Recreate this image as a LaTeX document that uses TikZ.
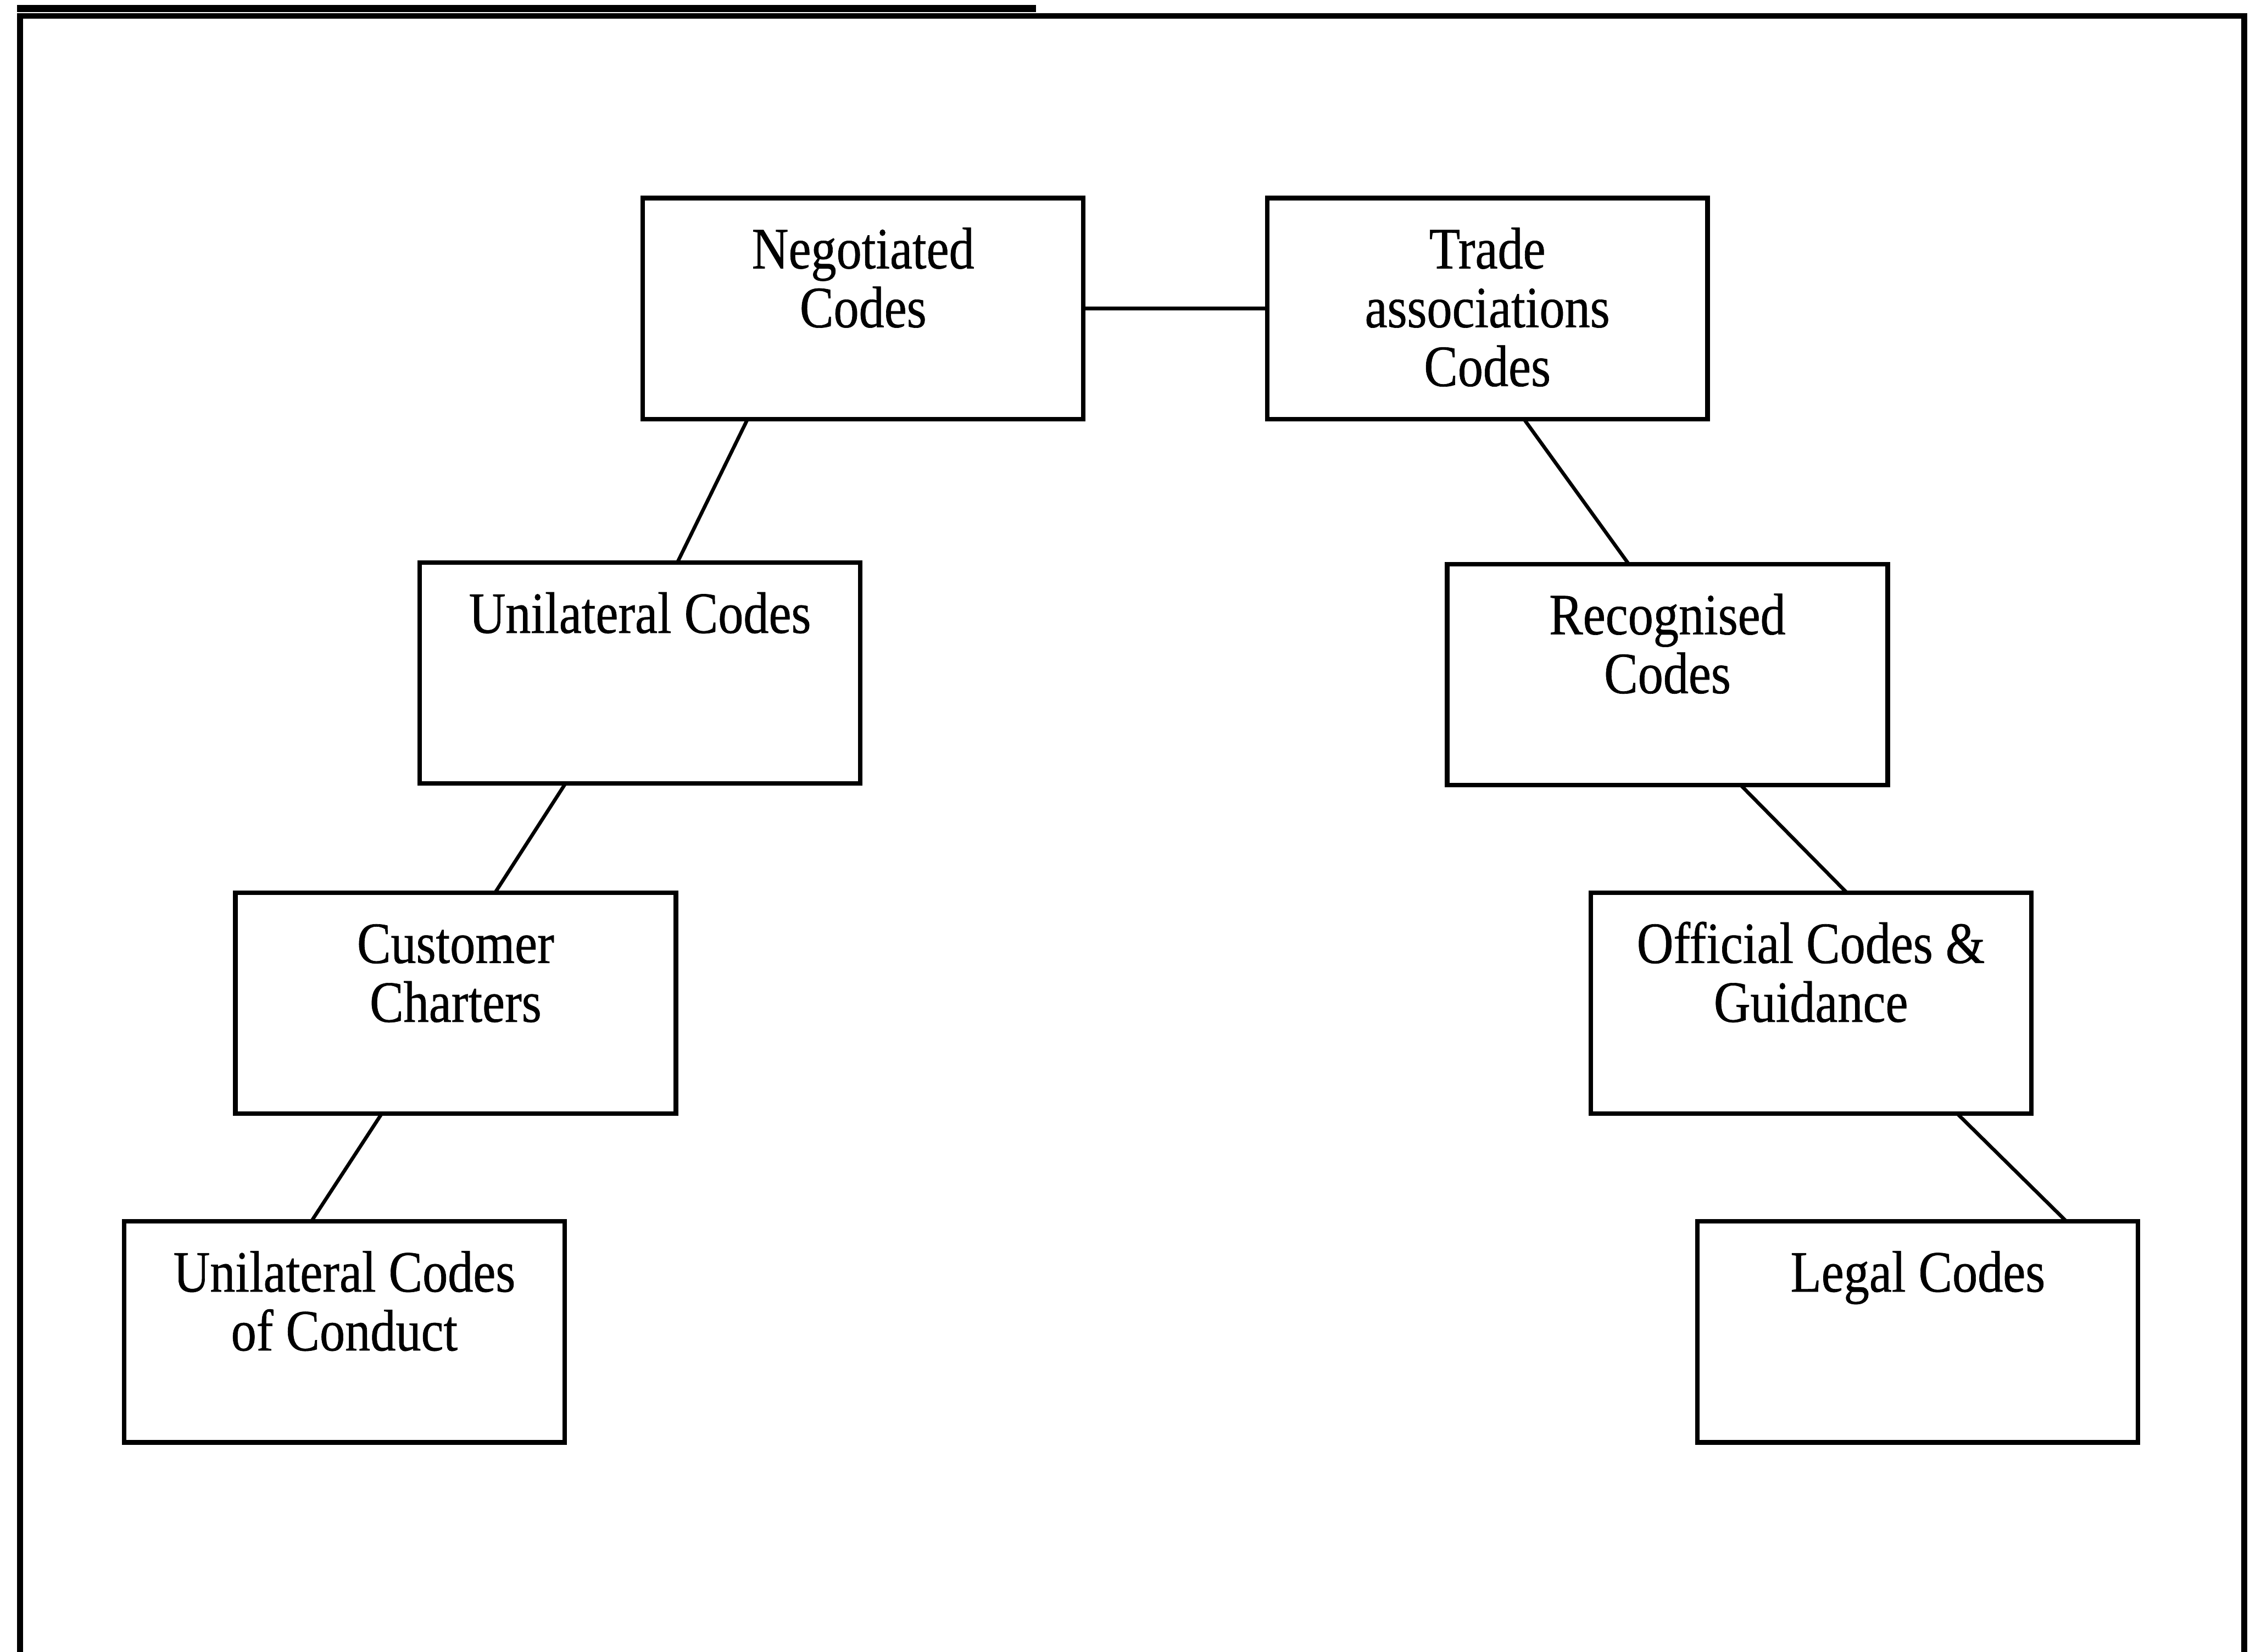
\documentclass[tikz,border=0pt]{standalone}
\usepackage{fontspec}
\setmainfont{Liberation Serif}[FakeStretch=0.865,FakeBold=0.6]
\newcommand\boxtext[1]{\parbox[c][92.4pt][t]{184.2pt}{\centering\fontsize{24.5}{24.6}\selectfont\rule{0pt}{29.4pt}#1\par}}
\begin{document}
\begin{tikzpicture}[x=0.6pt,y=-0.6pt,
  codebox/.style={draw, line width=1.9pt, rectangle, inner sep=0pt, outer sep=0pt},
  link/.style={line width=1.5pt},
  frameline/.style={line width=2.4pt}]
\useasboundingbox (0,0) rectangle (1568,1151);
\clip (0,0) rectangle (1568,1151);
% frame (bottom edge lies outside the picture)
\coordinate (ftl) at (14,11);
\coordinate (ftr) at (1564,11);
\coordinate (fbl) at (14,1170);
\coordinate (fbr) at (1564,1170);
\draw[frameline] (fbl) -- (ftl) -- (ftr) -- (fbr);
% underline of the cut-off caption
\coordinate (ul1) at (12,6);
\coordinate (ul2) at (722,6);
\draw[line width=3pt] (ul1) -- (ul2);
% boxes
\node[codebox] (neg)   at (601.5,215)  {\boxtext{Negotiated\\Codes}};
\node[codebox] (trade) at (1036.5,215) {\boxtext{Trade\\associations\\Codes}};
\node[codebox] (uni)   at (446,469)    {\boxtext{Unilateral Codes}};
\node[codebox] (rec)   at (1162,470)   {\boxtext{Recognised\\Codes}};
\node[codebox] (cust)  at (317.5,699)  {\boxtext{Customer\\Charters}};
\node[codebox] (off)   at (1262,699)   {\boxtext{Official Codes \&\\Guidance}};
\node[codebox] (ucc)   at (240,928)    {\boxtext{Unilateral Codes\\of Conduct}};
\node[codebox] (legal) at (1336.5,928) {\boxtext{Legal Codes}};
% connectors
\draw[link] (neg.east) -- (trade.west);
\draw[link] ([xshift=-80.5*0.6pt]neg.south) -- ([xshift=26*0.6pt]uni.north);
\draw[link] ([xshift=-52*0.6pt]uni.south) -- ([xshift=27.5*0.6pt]cust.north);
\draw[link] ([xshift=-51.5*0.6pt]cust.south) -- ([xshift=-23*0.6pt]ucc.north);
\draw[link] ([xshift=25.5*0.6pt]trade.south) -- ([xshift=-27*0.6pt]rec.north);
\draw[link] ([xshift=51*0.6pt]rec.south) -- ([xshift=25*0.6pt]off.north);
\draw[link] ([xshift=102*0.6pt]off.south) -- ([xshift=103.5*0.6pt]legal.north);
\end{tikzpicture}
\end{document}
